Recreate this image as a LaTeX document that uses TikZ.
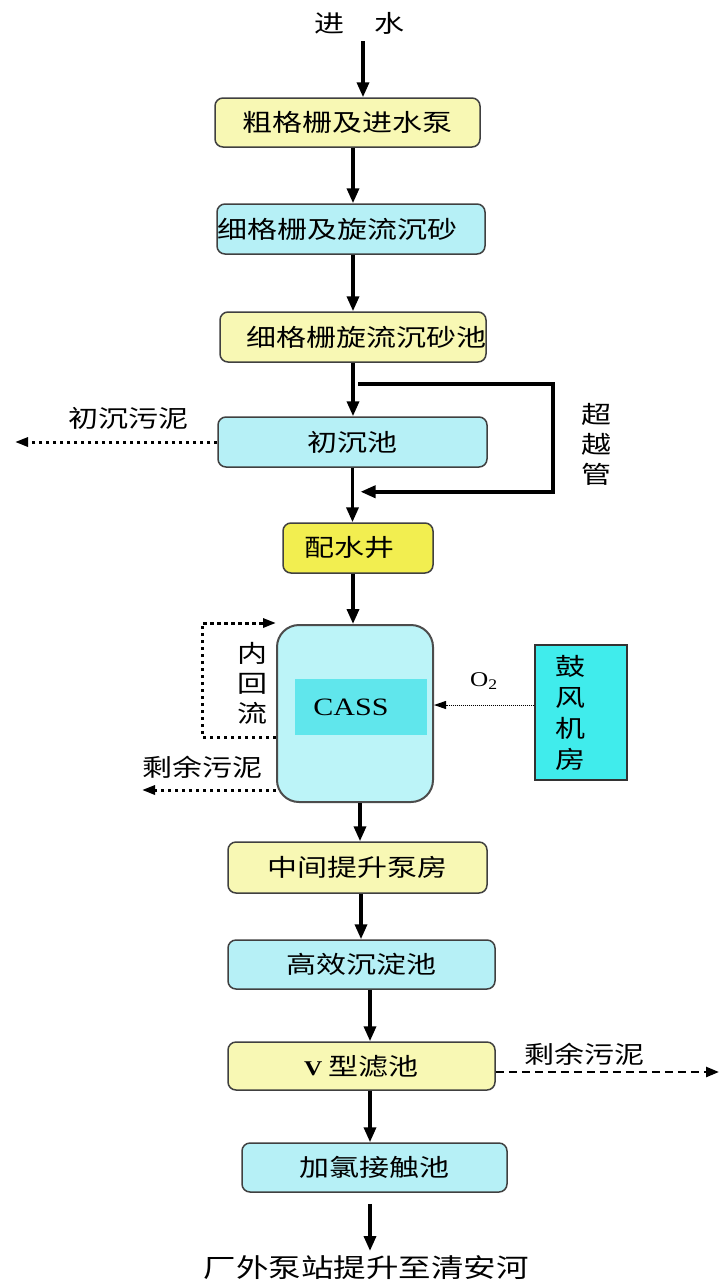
\documentclass[tikz,border=0pt]{standalone}
\usepackage{fontspec}
\usepackage{tikz}
\usepackage{xcolor}
\usetikzlibrary{arrows.meta}
\setmainfont{Noto Sans CJK SC}[FakeStretch=1.25]
\newfontfamily\romanfont{Liberation Serif}[FakeStretch=1.2]
\definecolor{paleyellow}{HTML}{F8F8B4}
\definecolor{paleblue}{HTML}{B6F0F6}
\definecolor{wellyellow}{HTML}{F2EE50}
\definecolor{tankblue}{HTML}{BCF4F8}
\definecolor{cassblue}{HTML}{60E6EC}
\definecolor{blowerblue}{HTML}{40ECEC}
\tikzset{
    process-box/.style = {draw=black!75, line width=1.5pt, rectangle, rounded corners=8pt, inner sep=0pt, minimum height=49pt, font=\fontsize{24}{30}\selectfont},
    yellow-box/.style = {process-box, fill=paleyellow},
    cyan-box/.style = {process-box, fill=paleblue},
    tank-box/.style = {draw=black!70, line width=2pt, fill=tankblue, rectangle, rounded corners=22pt, inner sep=0pt},
    side-text/.style = {inner sep=0pt, align=center, font=\fontsize{24}{30}\selectfont},
    main-flow/.style = {line width=3.5pt, -{Triangle[length=15pt, width=12pt]}},
    sludge-flow/.style = {line width=3pt, dash pattern=on 3.5pt off 3.5pt, -{Triangle[length=13pt, width=9pt]}},
    air-flow/.style = {line width=1pt, dash pattern=on 1pt off 1pt, -{Triangle[length=12pt, width=8pt]}},
    waste-flow/.style = {line width=2.5pt, dash pattern=on 8pt off 5pt, -{Triangle[length=13pt, width=10pt]}},
}

\begin{document}
\begin{tikzpicture}[x=1pt, y=-1pt]
\useasboundingbox (0,0) rectangle (721,1286);
\node [side-text, outer sep=7pt] (inflow) at (359,23) {进　水};
\node [yellow-box, minimum width=265pt] (coarse) at (347.5,122.5) {粗格栅及进水泵};
\node [cyan-box, minimum height=50pt, text width=268pt, align=left] (fine) at (351,229) {细格栅及旋流沉砂};
\node [yellow-box, minimum height=50pt, text width=266pt, align=right] (grit) at (353,337) {细格栅旋流沉砂池};
\node [cyan-box, minimum height=50pt, minimum width=269pt] (primary) at (352.5,442) {初沉池};
\node [process-box, fill=wellyellow, minimum height=50pt, minimum width=150pt] (well) at (358,548) {配水井\hspace*{18pt}};
\node [tank-box, minimum width=156pt, minimum height=177pt] (tank) at (355,713.5) {};
\node [fill=cassblue, minimum width=132pt, minimum height=56pt, inner sep=0pt, font=\romanfont\fontsize{25}{30}\selectfont] (cass) at (361,707) {CASS\hspace*{20pt}};
\node [draw=black!80, line width=1.5pt, fill=blowerblue, minimum width=92pt, minimum height=135pt, inner sep=0pt, text width=52pt, align=left, font=\fontsize{24}{31}\selectfont] (blower) at (581,712.5) {鼓\\风\\机\\房};
\node [yellow-box, minimum height=51pt, minimum width=259pt] (lift) at (357.5,867.5) {中间提升泵房};
\node [cyan-box, minimum width=267pt] (settling) at (361.5,964.5) {高效沉淀池};
\node [yellow-box, minimum height=48pt, minimum width=267pt] (vfilter) at (361.5,1066) {{\romanfont\bfseries\fontsize{21}{24}\selectfont V} 型滤池};
\node [cyan-box, minimum width=265pt] (chlorine) at (374.5,1167.5) {加氯接触池};
\node [side-text, outer sep=5pt, font=\fontsize{26}{30}\selectfont] (outflow) at (366,1268) {厂外泵站提升至清安河};

\node [side-text] (primary-sludge) at (128,418) {初沉污泥};
\node [side-text] (bypass-label) at (596,444) {超\\越\\管};
\node [side-text] (recycle-label) at (252,683) {内\\回\\流};
\node [side-text] (excess-sludge) at (202,767) {剩余污泥};
\node [side-text, font=\romanfont\fontsize{21}{24}\selectfont] (oxygen) at (484,681) {O\textsubscript{2}};
\node [side-text] (filter-sludge) at (584,1054) {剩余污泥};

\draw [main-flow] ([xshift=4pt]inflow.south) -- ([xshift=4pt]inflow.south |- coarse.north);
\draw [main-flow] ([xshift=5.5pt]coarse.south) -- ([xshift=5.5pt]coarse.south |- fine.north);
\draw [main-flow] ([xshift=2pt]fine.south) -- ([xshift=2pt]fine.south |- grit.north);
\draw [main-flow] (grit.south) -- (grit.south |- primary.north);
\draw [main-flow] (primary.south) -- (primary.south |- well.north);
\draw [main-flow] ([shift={(5pt,-21pt)}]grit.south) -| ([xshift=65pt]primary.east) |- ([shift={(8pt,-24pt)}]primary.south);
\draw [main-flow] ([xshift=-5pt]well.south) -- ([xshift=-5pt]well.south |- tank.north);
\draw [main-flow] ([xshift=5pt]tank.south) -- ([xshift=5pt]tank.south |- lift.north);
\draw [main-flow] ([xshift=3.5pt]lift.south) -- ([xshift=3.5pt]lift.south |- settling.north);
\draw [main-flow] ([xshift=8.5pt]settling.south) -- ([xshift=8.5pt]settling.south |- vfilter.north);
\draw [main-flow] ([xshift=8.5pt]vfilter.south) -- ([xshift=8.5pt]vfilter.south |- chlorine.north);
\draw [main-flow] ([shift={(-4.5pt,-11pt)}]chlorine.south) -- ([xshift=-4.5pt]chlorine.south |- outflow.north);

\coordinate (primary-out) at (15,442);
\coordinate (excess-out) at (142,790);
\coordinate (filter-out) at (719,1072);
\draw [sludge-flow] (primary.west) -- (primary-out);
\draw [sludge-flow] ([yshift=-23.5pt]tank.west) -- ++(-74,0) |- ([yshift=1pt]tank.north west);
\draw [sludge-flow] ([yshift=-76.5pt]tank.west) -- (excess-out);
\draw [air-flow] ([yshift=7.5pt]blower.west) -- ([yshift=7.5pt]blower.west -| tank.east);
\draw [waste-flow] ([yshift=-6pt]vfilter.east) -- (filter-out);
\end{tikzpicture}
\end{document}
